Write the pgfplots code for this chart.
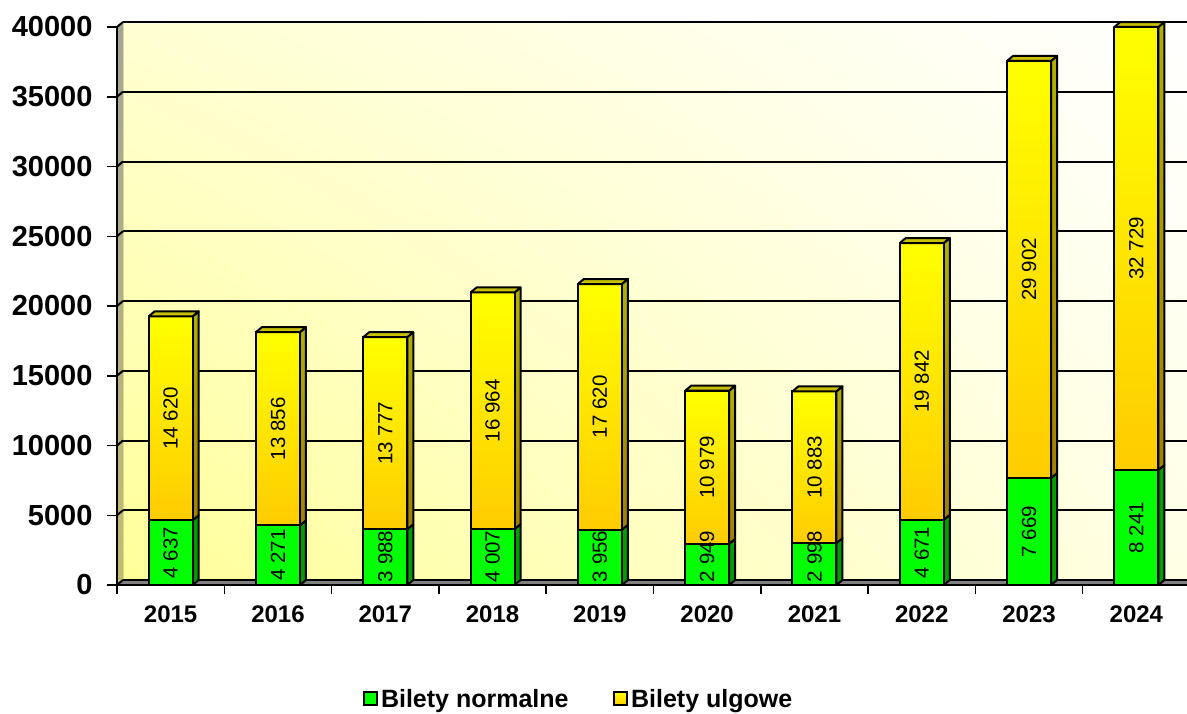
\documentclass[border=0pt]{standalone}
\usepackage{fontspec}
\setmainfont{Liberation Sans}
\usepackage{pgfplots}
\usepackage{pgfplotstable}
\usetikzlibrary{shadings}
\pgfplotsset{compat=1.18}

\definecolor{greenf}{HTML}{00FF00}
\definecolor{greens}{HTML}{009C00}
\definecolor{orangef}{HTML}{FFCC00}
\definecolor{yellowf}{HTML}{FFFF00}
\definecolor{oranges}{HTML}{A08000}
\definecolor{yellows}{HTML}{B0B000}
\definecolor{topf}{HTML}{C8C000}
\definecolor{wallll}{HTML}{FFFF99}
\definecolor{wallul}{HTML}{FFFFD2}
\definecolor{walllr}{HTML}{FFFFE6}
\definecolor{sidebot}{HTML}{C2BC70}
\definecolor{sidetop}{HTML}{A4A496}

\pgfplotstableread{
x year normalne ulgowe
0 2015 4637 14620
1 2016 4271 13856
2 2017 3988 13777
3 2018 4007 16964
4 2019 3956 17620
5 2020 2949 10979
6 2021 2998 10883
7 2022 4671 19842
8 2023 7669 29902
9 2024 8241 32729
}\ticketdata

% pgfmath stops at 16383, so the heights go through \numexpr
\newcommand{\barheights}[1]{%
  \pgfplotstablegetelem{#1}{normalne}\of\ticketdata \edef\nval{\pgfplotsretval}%
  \pgfplotstablegetelem{#1}{ulgowe}\of\ticketdata \edef\uval{\pgfplotsretval}%
  \edef\ytop{\the\numexpr\nval+\uval\relax}%
  \ifnum\ytop>40000 \def\ytop{40000}\fi
  \edef\yna{\the\numexpr\nval+358\relax}%
  \edef\yta{\the\numexpr\ytop+358\relax}%
}

\pgfplotsset{
  chartbase/.style={
    scale only axis, width=1073pt, height=558pt,
    anchor=south west,
    xmin=-0.5, xmax=9.5, ymin=0, ymax=40000,
  },
  hiddenaxis/.style={chartbase, at={(117pt,128pt)}, axis lines=none, clip=false},
}

\begin{document}
\begin{tikzpicture}[x=1pt,y=1pt]
\useasboundingbox (0,0) rectangle (1187,713);

% back wall with the grid
\begin{axis}[chartbase, at={(123pt,133pt)},
    axis line style={draw=none}, tick style={draw=none},
    xticklabels={}, yticklabels={}, xtick=\empty,
    ytick={0,5000,...,40000}, scaled y ticks=false,
    ymajorgrids, grid style={black, line width=2pt},
    axis background/.style={lower left=wallll, upper right=white, upper left=wallul, lower right=walllr},
    clip=false]
\end{axis}

% left wall and floor
\fill[bottom color=sidebot, top color=sidetop]
  (117,128) -- (123,133) -- (123,691) -- (117,686) -- cycle;
\fill[black!50] (117,128) -- (123,133) -- (1190,133) -- (1190,128) -- cycle;
\foreach \py in {128,197.75,...,686} \draw[black, line width=2pt] (117,\py) -- (123,\py+5);
\draw[black, line width=2pt] (123,133) -- (1190,133);

% bar side faces
\begin{axis}[hiddenaxis]
\pgfplotsinvokeforeach{0,...,9}{
  \barheights{#1}
  \pgfmathsetmacro\xa{#1+0.205}
  \pgfmathsetmacro\xb{#1+0.261}
  \addplot[fill=greens, draw=black, line width=2pt, line join=round]
    coordinates {(\xa,0) (\xb,358) (\xb,\yna) (\xa,\nval) (\xa,0)};
  \addplot[bottom color=oranges, top color=yellows, draw=black, line width=2pt, line join=round]
    coordinates {(\xa,\nval) (\xb,\yna) (\xb,\yta) (\xa,\ytop) (\xa,\nval)};
}
\end{axis}

% front faces, ticks and legend
\begin{axis}[chartbase, at={(117pt,128pt)},
    ybar stacked, bar width=44pt,
    axis lines=left, axis line style={-, line width=2pt},
    tick align=outside, major tick length=10pt, minor tick length=9pt,
    tick style={black, line width=1.5pt},
    xtick={0,...,9}, xticklabels from table={\ticketdata}{year},
    minor xtick={-0.5,0.5,...,9.5},
    major x tick style={draw=none},
    ytick={0,5000,...,40000}, scaled y ticks=false,
    /pgf/number format/assume math mode=true,
    /pgf/number format/1000 sep={},
    yticklabel style={font=\fontsize{29}{28}\selectfont\bfseries, xshift=-11pt},
    xticklabel style={font=\fontsize{24}{24}\selectfont\bfseries, yshift=-7pt},
    legend columns=2,
    legend style={at={(0.43,-0.205)}, anchor=center, draw=none, fill=none,
      font=\fontsize{25}{25}\selectfont\bfseries,
      /tikz/every even column/.style={column sep=42pt},
      /tikz/every odd column/.style={column sep=1.5pt}},
  ]
\addplot[fill=greenf, draw=black, line width=2pt,
  legend image code/.code={\draw[fill=greenf, draw=black, line width=2pt] (0pt,-6pt) rectangle (13pt,7pt);}]
  table[x=x, y=normalne] {\ticketdata};
\addlegendentry{Bilety normalne}
\addplot[fill=orangef, draw=black, line width=2pt,
  legend image code/.code={\draw[bottom color=orangef, top color=yellowf, draw=black, line width=2pt] (0pt,-6pt) rectangle (13pt,7pt);}]
  table[x=x, y=ulgowe] {\ticketdata};
\addlegendentry{Bilety ulgowe}
\end{axis}

% shaded fronts, top faces and value labels
\begin{axis}[hiddenaxis,
    nodes near coords style={font=\fontsize{20.5}{20}\selectfont, rotate=90, anchor=center, text=black},
    /pgf/number format/assume math mode=true,
    /pgf/number format/fixed, /pgf/number format/precision=0,
    /pgf/number format/1000 sep={\ }]
\pgfplotsinvokeforeach{0,...,9}{
  \barheights{#1}
  \pgfmathsetmacro\xl{#1-0.205}
  \pgfmathsetmacro\xa{#1+0.205}
  \pgfmathsetmacro\xc{#1-0.149}
  \pgfmathsetmacro\xb{#1+0.261}
  \addplot[bottom color=orangef, top color=yellowf, draw=black, line width=2pt, line join=round]
    coordinates {(\xl,\nval) (\xl,\ytop) (\xa,\ytop) (\xa,\nval) (\xl,\nval)};
  \addplot[fill=topf, draw=black, line width=2pt, line join=round]
    coordinates {(\xl,\ytop) (\xc,\yta) (\xb,\yta) (\xa,\ytop) (\xl,\ytop)};
}
\addplot[draw=none, nodes near coords, point meta=\thisrow{normalne}]
  table[x=x, y expr={max(\thisrow{normalne}/2,2050)}] {\ticketdata};
\addplot[draw=none, nodes near coords, point meta=\thisrow{ulgowe}]
  table[x=x, y expr={(\thisrow{normalne}+min(\thisrow{normalne}+\thisrow{ulgowe},40000))/2}] {\ticketdata};
\end{axis}
\end{tikzpicture}
\end{document}
